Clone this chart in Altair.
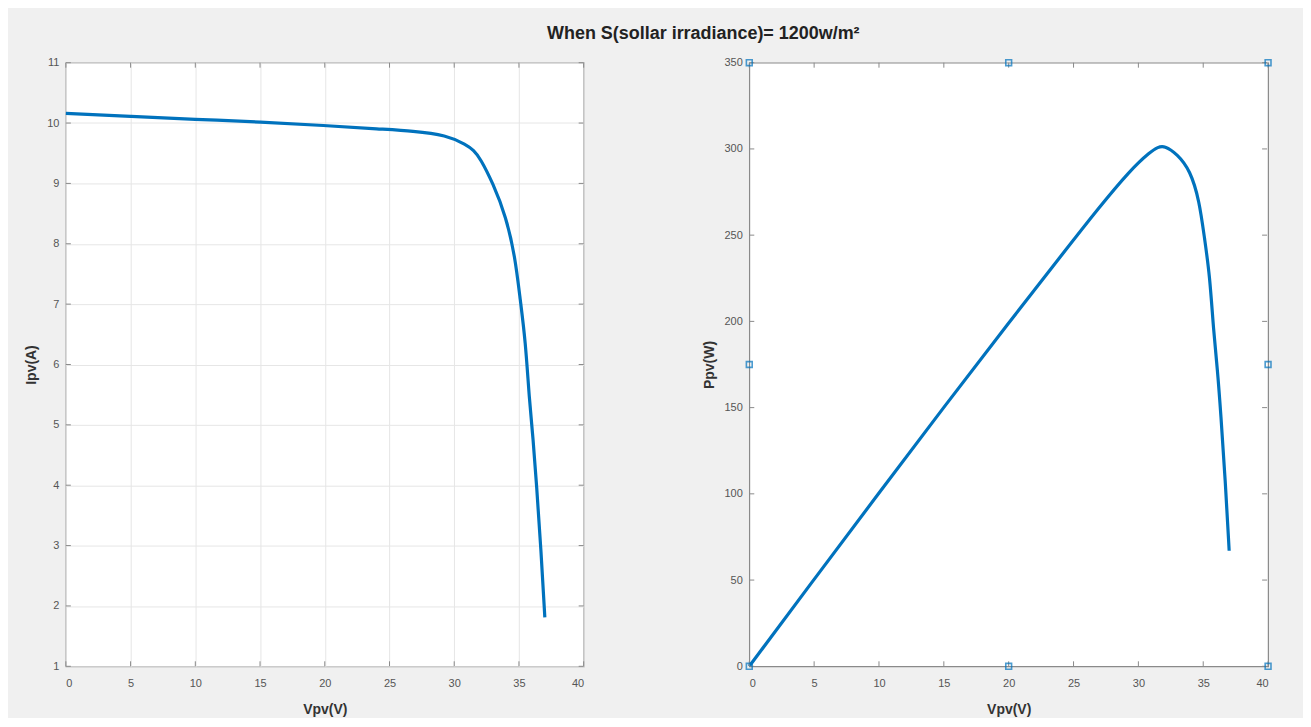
import altair as alt
import pandas as pd

# Values
V_iv = [0, 5, 10, 15, 20, 24.3, 26.8, 29.4, 30.95, 31.5, 32, 33, 34, 34.7, 35.1, 35.5, 35.8, 36.1, 36.35, 36.7, 37]
I_iv = [10.16, 10.11, 10.06, 10.02, 9.96, 9.90, 9.87, 9.80, 9.64, 9.55, 9.42, 9.00, 8.45, 7.79, 7.07, 6.40, 5.42, 4.76, 4.04, 2.94, 1.81]
P_pv = [0, 50.5, 100.5, 150.3, 199.2, 240.5, 264.5, 288.0, 298.5, 301.0, 302.0, 297.0, 287.5, 270.0, 248.0, 227.0, 194.0, 172.0, 147.0, 108.0, 67.0]

x_ticks = [0, 5, 10, 15, 20, 25, 30, 35, 40]
i_ticks = [1, 2, 3, 4, 5, 6, 7, 8, 9, 10, 11]
p_ticks = [0, 50, 100, 150, 200, 250, 300, 350]

handle_x = [0, 20, 40, 0, 40, 0, 20, 40]
handle_y = [0, 0, 0, 175, 175, 350, 350, 350]

TITLE = "When S(sollar irradiance)= 1200w/m\u00b2"

iv = pd.DataFrame({"V": V_iv, "I": I_iv})
pv = pd.DataFrame({"V": V_iv, "P": P_pv})
xt = pd.DataFrame({"V": x_ticks})
it = pd.DataFrame({"I": i_ticks})
pt = pd.DataFrame({"P": p_ticks})
hd = pd.DataFrame({"V": handle_x, "P": handle_y})

W, H = 519, 605
BLUE = "#0072BD"
AXC = "#8a8a8a"
TL = 5

xscale = alt.Scale(domain=[0, 40], nice=False, zero=False)
iscale = alt.Scale(domain=[1, 11], nice=False, zero=False)
pscale = alt.Scale(domain=[0, 350], nice=False, zero=False)


def x_enc(grid):
    return alt.X("V:Q", scale=xscale, title="Vpv(V)",
                 axis=alt.Axis(values=x_ticks, grid=grid, format="d"))


def i_enc():
    return alt.Y("I:Q", scale=iscale, title="Ipv(A)",
                 axis=alt.Axis(values=i_ticks, grid=True, format="d"))


def p_enc():
    return alt.Y("P:Q", scale=pscale, title="Ppv(W)",
                 axis=alt.Axis(values=p_ticks, grid=False, format="d"))


def inward_ticks(ydf, yenc, grid):
    b = alt.Chart(xt).mark_rule(color=AXC, strokeWidth=1).encode(
        x=x_enc(grid), y=alt.value(H), y2=alt.value(H - TL))
    t = alt.Chart(xt).mark_rule(color=AXC, strokeWidth=1).encode(
        x=x_enc(grid), y=alt.value(0), y2=alt.value(TL))
    l = alt.Chart(ydf).mark_rule(color=AXC, strokeWidth=1).encode(
        y=yenc(), x=alt.value(0), x2=alt.value(TL))
    r = alt.Chart(ydf).mark_rule(color=AXC, strokeWidth=1).encode(
        y=yenc(), x=alt.value(W), x2=alt.value(W - TL))
    return [b, t, l, r]


left_line = alt.Chart(iv).mark_line(color=BLUE, strokeWidth=3.2, interpolate="basis").encode(
    x=x_enc(True), y=i_enc())
left = alt.layer(left_line, *inward_ticks(it, i_enc, True)).properties(width=W, height=H)

right_line = alt.Chart(pv).mark_line(color=BLUE, strokeWidth=3.2, interpolate="basis").encode(
    x=x_enc(False), y=p_enc())
handles = alt.Chart(hd).mark_point(shape="square", filled=False, color=BLUE, size=34,
                                   strokeWidth=1.6, clip=False).encode(
    x=x_enc(False), y=p_enc())
right = alt.layer(right_line, *inward_ticks(pt, p_enc, False), handles).properties(width=W + 1, height=H)

chart = alt.hconcat(left, right, spacing=116).properties(
    title=alt.TitleParams(TITLE, fontSize=18, fontWeight="bold", anchor="middle",
                          color="#222222", dx=54, offset=13, font="Liberation Sans"),
    background="#f0f0f0",
    padding={"left": 16, "top": 16, "right": 28, "bottom": 0},
).configure_view(
    fill="white", stroke=AXC, strokeWidth=1.2
).configure_axis(
    domain=False, ticks=False, labelFont="Liberation Sans", labelFontSize=11,
    labelColor="#555555", titleFont="Liberation Sans", titleFontSize=14,
    titleFontWeight="bold", titleColor="#333333", gridColor="#e6e6e6", gridWidth=1,
).configure_axisX(
    labelPadding=11, titlePadding=14
).configure_axisY(
    labelPadding=7, titlePadding=8
)

chart.save("out.html", embed_options={"renderer": "svg", "actions": False})
